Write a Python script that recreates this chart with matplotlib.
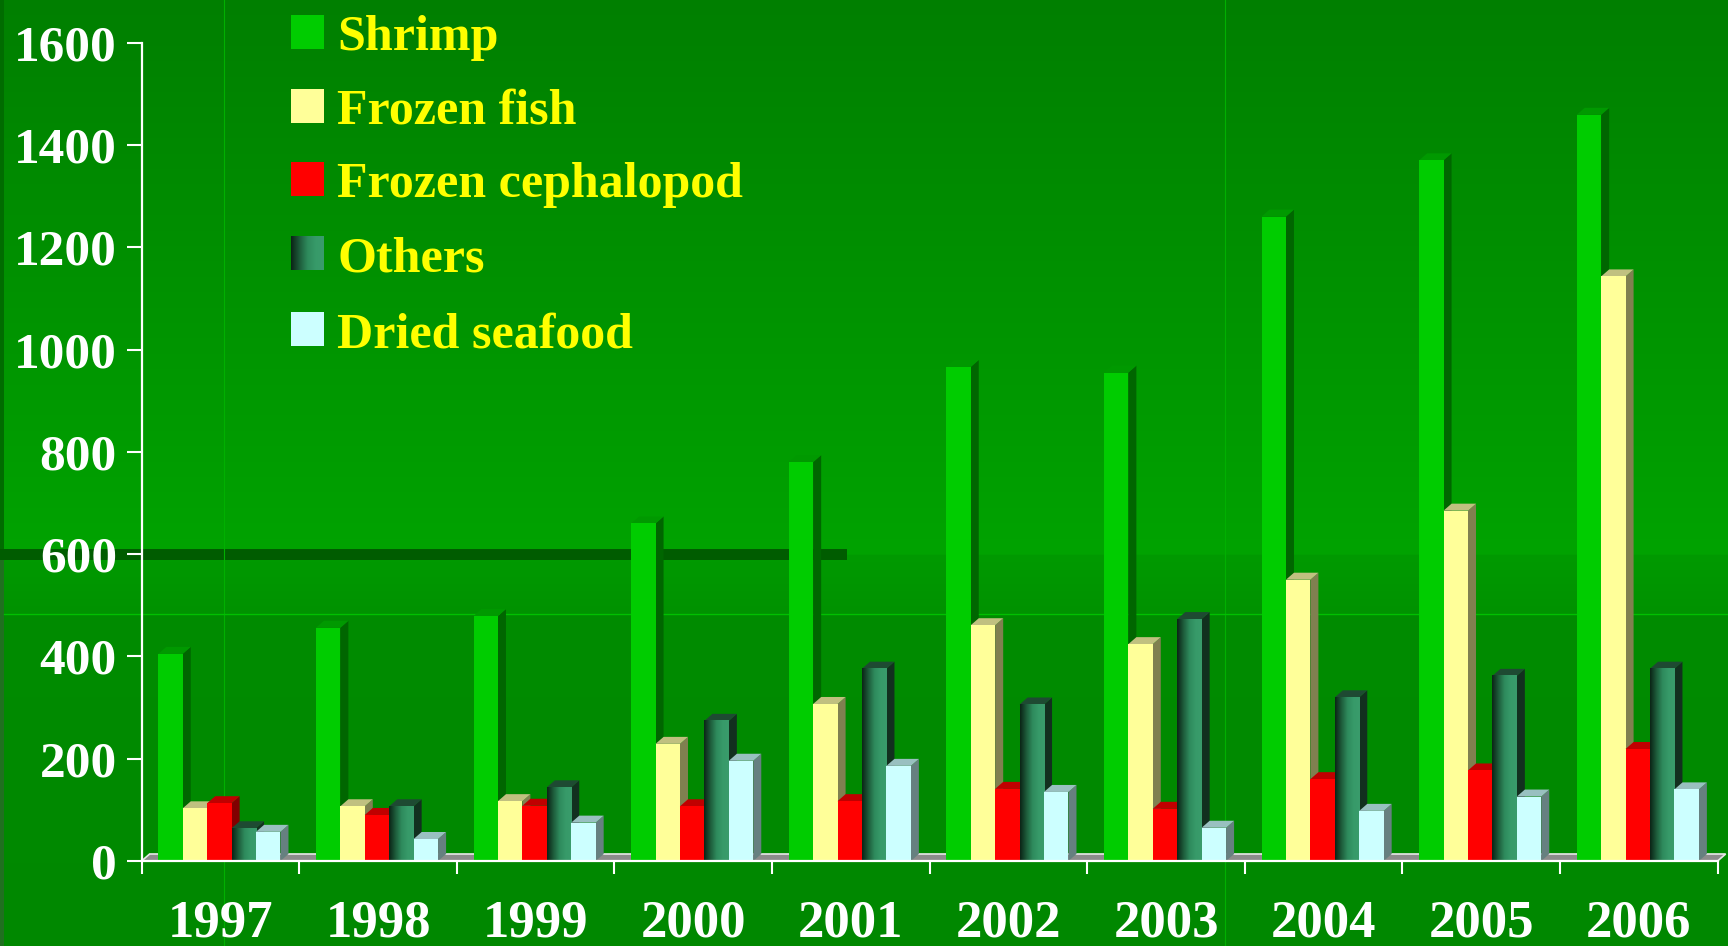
import numpy as np
import matplotlib
matplotlib.use("Agg")
import matplotlib.pyplot as plt
from matplotlib.patches import Rectangle, Polygon
from matplotlib.colors import LinearSegmentedColormap, to_rgb

# data
years = ["1997", "1998", "1999", "2000", "2001", "2002", "2003", "2004", "2005", "2006"]
series = ["Shrimp", "Frozen fish", "Frozen cephalopod", "Others", "Dried seafood"]
shrimp = [405, 456, 479, 660, 780, 966, 955, 1260, 1370, 1459]
frozen_fish = [103, 107, 117, 229, 307, 461, 424, 550, 685, 1143]
cephalopod = [113, 90, 108, 107, 117, 141, 102, 160, 177, 219]
others = [64, 107, 144, 274, 376, 306, 473, 320, 362, 376]
dried = [57, 43, 75, 196, 186, 135, 65, 98, 126, 140]
values = [shrimp, frozen_fish, cephalopod, others, dried]

# front / side / top colours per series (None front -> gradient)
FRONT = ['#00CC00', '#FFFF99', '#FF0000', None, '#CCFFFF']
SIDE = ['#006600', '#808050', '#800000', '#12301f', '#668080']
TOP = ['#009900', '#C0C080', '#C00000', '#1e4a32', '#99C0C0']
others_cmap = LinearSegmentedColormap.from_list(
    'oth', ['#0b2416', '#1d5a3a', '#2e8a5c', '#379a69', '#3a9c6c'])

W, H = 1728, 946
fig = plt.figure(figsize=(W / 100, H / 100), dpi=100)

# ---- slide background ----
bg = fig.add_axes([0, 0, 1, 1], zorder=0)
bg.set_xlim(0, W)
bg.set_ylim(H, 0)
bg.axis('off')

def lerp(c1, c2, n):
    a, b = np.array(to_rgb(c1)), np.array(to_rgb(c2))
    t = np.linspace(0, 1, n)[:, None]
    return a + (b - a) * t

rows = np.vstack([
    lerp('#007f00', '#00A300', 555),
    lerp('#009a00', '#009200', 59),
    lerp('#008c00', '#008800', H - 614),
])
bg.imshow(rows[:, None, :], extent=[0, W, H, 0], aspect='auto', interpolation='bilinear')
bg.add_patch(Rectangle((0, 549), 847, 11, facecolor='#005c00', edgecolor='none'))
bg.add_patch(Rectangle((0, 0), 4, 549, facecolor='#006c00', edgecolor='none'))
bg.add_patch(Rectangle((0, 560), 4, H - 560, facecolor='#207020', edgecolor='none'))
bg.plot([224, 224], [0, H], color='#00b000', lw=0.8)
bg.plot([1225, 1225], [0, H], color='#00b000', lw=0.8)
bg.plot([4, W], [614, 614], color='#00c000', lw=1)
bg.set_xlim(0, W)
bg.set_ylim(H, 0)

# legend drawn in pixel space
txt_font = dict(family=['Liberation Serif', 'DejaVu Serif'], weight='bold')
leg_y = [32, 106, 179, 253, 329]
for j, name in enumerate(series):
    y = leg_y[j]
    if FRONT[j] is None:
        grad = others_cmap(np.linspace(0, 1, 64))[None, :, :3]
        bg.imshow(grad, extent=[291, 324, y + 17, y - 17], aspect='auto', zorder=3)
    else:
        bg.add_patch(Rectangle((291, y - 17), 33, 34, facecolor=FRONT[j], edgecolor='none', zorder=3))
    bg.text(337, y + 18, name, color='#FFFF00', fontsize=36, va='baseline', ha='left', **txt_font)
bg.set_xlim(0, W)
bg.set_ylim(H, 0)

# ---- chart ----
ax = fig.add_axes([141.6 / W, (H - 861) / H, 1576 / W, 818.3 / H], zorder=2)
ax.patch.set_alpha(0)
n = len(years)
bar_w = 0.155
off = 0.106
dx = 0.051
dy = 13.7

# floor
ax.add_patch(Polygon([(0, 0), (n, 0), (n + dx, dy), (dx, dy)], closed=True,
                     facecolor='#8c8c8c', edgecolor='#e8e8e8', lw=1.2, zorder=1, clip_on=False))

for i in range(n):
    for j in range(len(series)):
        h = values[j][i]
        x0 = i + off + j * bar_w
        x1 = x0 + bar_w
        side = Polygon([(x1, 0), (x1 + dx, dy), (x1 + dx, h + dy), (x1, h)], closed=True,
                       facecolor=SIDE[j], edgecolor='none', zorder=2 + 2 * j)
        top = Polygon([(x0, h), (x0 + dx, h + dy), (x1 + dx, h + dy), (x1, h)], closed=True,
                      facecolor=TOP[j], edgecolor='none', zorder=2 + 2 * j)
        ax.add_patch(side)
        ax.add_patch(top)
        if FRONT[j] is None:
            grad = others_cmap(np.linspace(0, 1, 64))[None, :, :3]
            ax.imshow(grad, extent=[x0, x1, 0, h], aspect='auto', zorder=3 + 2 * j,
                      interpolation='bilinear')
        else:
            ax.bar(x0, h, width=bar_w, align='edge', color=FRONT[j], edgecolor='none',
                   zorder=3 + 2 * j)

ax.set_xlim(0, n)
ax.set_ylim(0, 1600)
ax.set_aspect('auto')

for s in ['top', 'right']:
    ax.spines[s].set_visible(False)
for s in ['left', 'bottom']:
    ax.spines[s].set_color('white')
    ax.spines[s].set_linewidth(1.6)
    ax.spines[s].set_zorder(20)

ax.set_yticks(np.arange(0, 1601, 200))
ax.tick_params(axis='y', direction='out', length=10.8, width=1.5, colors='white',
               labelsize=37, pad=7)
ax.set_xticks(np.arange(0, n + 1))
ax.set_xticklabels([])
ax.tick_params(axis='x', which='major', direction='out', length=9.5, width=1.5, colors='white')
ax.set_xticks(np.arange(n) + 0.5, minor=True)
ax.set_xticklabels(years, minor=True)
ax.tick_params(axis='x', which='minor', length=0, labelsize=38, labelcolor='white', pad=28)
for lab in ax.get_yticklabels() + ax.get_xticklabels(minor=True):
    lab.set_fontfamily(['Liberation Serif', 'DejaVu Serif'])
    lab.set_fontweight('bold')

fig.savefig('out.png', dpi=100)
